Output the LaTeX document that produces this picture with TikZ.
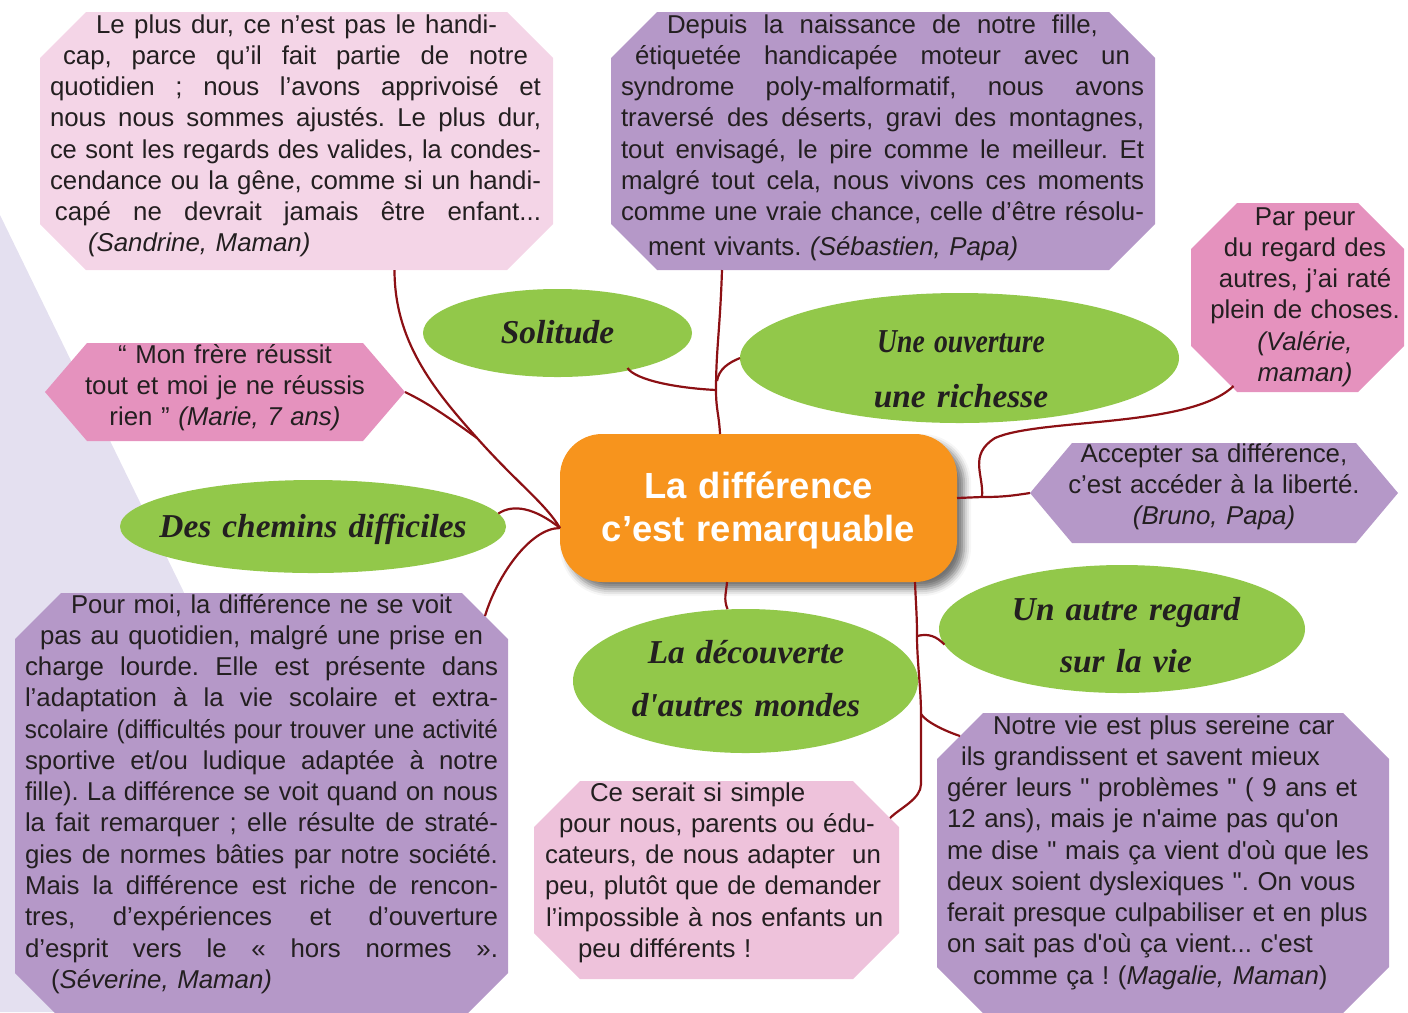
\documentclass[tikz,border=0pt]{standalone}
\usepackage{fontspec}
\usepackage{graphicx}
\setmainfont{Liberation Sans}
\newfontfamily{\hand}{Liberation Serif}
\usetikzlibrary{shapes.geometric,calc,shadows.blur}
\definecolor{lav}{RGB}{228,224,240}
\definecolor{pale}{RGB}{244,213,231}
\definecolor{rose}{RGB}{238,194,219}
\definecolor{candy}{RGB}{229,146,190}
\definecolor{mauve}{RGB}{181,152,200}
\definecolor{leaf}{RGB}{146,200,74}
\definecolor{tangerine}{RGB}{247,148,29}
\definecolor{ink}{RGB}{35,31,32}
\definecolor{wine}{RGB}{140,16,20}
\newlength{\px}
\setlength{\px}{0.02cm}
\newsavebox{\lnbox}
\newcommand{\jl}[3][0]{\hspace*{#1\px}\sbox{\lnbox}{#3}%
  \ifdim\wd\lnbox>#2\px\relax\resizebox{#2\px}{\height}{\usebox{\lnbox}}%
  \else\hbox to #2\px{\spaceskip=\fontdimen2\font plus 1fil\relax
    \xspaceskip=\spaceskip #3}\fi}
\newcommand{\octbox}[3]{\fill[#2] ($(#1.north west)+(#3,0)$) -- ($(#1.north east)+(-#3,0)$)
  -- ($(#1.north east)+(0,#3)$) -- ($(#1.south east)+(0,-#3)$) -- ($(#1.south east)+(-#3,0)$)
  -- ($(#1.south west)+(#3,0)$) -- ($(#1.south west)+(0,-#3)$) -- ($(#1.north west)+(0,#3)$) -- cycle;}
\newcommand{\hexbox}[3]{\fill[#2] (#1.west) -- ($(#1.north west)+(#3,0)$) -- ($(#1.north east)+(-#3,0)$)
  -- (#1.east) -- ($(#1.south east)+(-#3,0)$) -- ($(#1.south west)+(#3,0)$) -- cycle;}
\newcommand{\quotefont}{\fontsize{14.7}{17.8}\selectfont}
\newcommand{\handfont}{\hand\bfseries\itshape\fontsize{19}{30.6}\selectfont}
\newcommand{\titlefont}{\bfseries\fontsize{20.7}{24.9}\selectfont}
\newcommand{\sq}{\textquotesingle}
\newcommand{\dq}{\textquotedbl}

\begin{document}
\frenchspacing
\begin{tikzpicture}[x=0.02cm,y=-0.02cm]
  \tikzstyle{every node}=[inner sep=0pt,outer sep=0pt]
  \tikzstyle{bubble}=[ellipse,fill=leaf]
  \tikzstyle{txt}=[font=\quotefont,text=ink,anchor=base west,align=left]
  \tikzstyle{ctr}=[font=\quotefont,text=ink,anchor=base,align=center]
  \tikzstyle{lbl}=[font=\handfont,text=ink,anchor=base,align=center,text width=460*\px]
  \tikzstyle{link}=[draw=wine,line width=1.25pt]
  \useasboundingbox (0,0) rectangle (1408,1012);
  \fill[lav] (0,215) -- (212,650) -- (212,1012) -- (0,1012) -- cycle;

  \node (sandrine) [minimum width=513*\px,minimum height=258*\px] at (296.5,141) {};
  \node (sebastien) [minimum width=544*\px,minimum height=258*\px] at (883,141) {};
  \node (valerie) [minimum width=213*\px,minimum height=189*\px] at (1297.5,297.5) {};
  \node (bruno) [minimum width=368*\px,minimum height=100*\px] at (1214,493) {};
  \node (marie) [minimum width=360*\px,minimum height=98*\px] at (225,392) {};
  \node (severine) [minimum width=493*\px,minimum height=426*\px] at (261.5,806) {};
  \node (cesimple) [minimum width=365*\px,minimum height=198*\px] at (716.5,880) {};
  \node (magalie) [minimum width=452*\px,minimum height=300*\px] at (1163,863) {};
  \octbox{sandrine}{pale}{46}
  \octbox{sebastien}{mauve}{46}
  \octbox{valerie}{candy}{46}
  \hexbox{bruno}{mauve}{42}
  \hexbox{marie}{candy}{42}
  \octbox{severine}{mauve}{46}
  \octbox{cesimple}{rose}{46}
  \octbox{magalie}{mauve}{46}

  \node (solitude) [bubble,minimum width=269*\px,minimum height=88*\px] at (557.5,333) {};
  \node (ouverture) [bubble,minimum width=439*\px,minimum height=130*\px] at (959.5,358) {};
  \node (chemins) [bubble,minimum width=386*\px,minimum height=93*\px] at (313,526.5) {};
  \node (decouverte) [bubble,minimum width=345*\px,minimum height=144*\px] at (745.5,681) {};
  \node (regard) [bubble,minimum width=366*\px,minimum height=128*\px] at (1122,629) {};

  \node (diff) [rectangle,rounded corners=24pt,fill=tangerine,minimum width=397*\px,
    minimum height=148*\px,blur shadow={shadow xshift=4pt,shadow yshift=-4pt,
    shadow blur radius=4pt,shadow opacity=55}] at (758.5,508) {};

  \coordinate (hubL) at ($(diff.west)+(0,20)$);
  \coordinate (jL) at (477,438);
  \coordinate (jT) at (716,390);
  \coordinate (jT2) at (717,381);
  \coordinate (hubR) at ($(diff.east)+(0,-10)$);
  \coordinate (jR) at (982,497);
  \coordinate (jB1) at (917,636);
  \coordinate (jB2) at (921,714);

  \draw[link] ($(sandrine.south)+(98,0)$) .. controls +(0,70) and +(-45,-50) .. (jL)
    .. controls +(40,45) and +(-15,-25) .. (hubL);
  \draw[link] (marie.east) .. controls +(25,12) and +(-25,-18) .. (jL);
  \draw[link] (chemins.4) .. controls +(15,-10) and +(-25,-20) .. (hubL);
  \draw[link] (hubL) .. controls +(-30,0) and +(12,-40) .. ($(severine.north)+(223.5,23)$);
  \draw[link] ($(sebastien.south)+(-161,0)$) .. controls +(-2,60) and +(0,-40) .. (jT)
    .. controls +(0,20) and +(-1,-20) .. ($(diff.north)+(-38.5,0)$);
  \draw[link] ($(solitude.south)+(70,-9)$) .. controls +(8,12) and +(-40,-2) .. (jT);
  \draw[link] (jT2) .. controls +(2,-12) and +(-12,5) .. (ouverture.west);
  \draw[link] (hubR) -- (jR) .. controls +(20,0) and +(-20,3) .. (bruno.west);
  \draw[link] (jR) .. controls +(2,-22) and +(-27,17) .. ++(13,-59)
    .. controls +(45,-20) and +(-43,42) .. ($(valerie.south)+(-64,-6)$);
  \draw[link] ($(diff.south)+(-31.5,0)$) .. controls +(-1,12) and +(-4,-10) .. ($(decouverte.north)+(-18,0)$);
  \draw[link] ($(diff.south)+(156.5,0)$) .. controls +(1,25) and +(0,-20) .. (jB1)
    .. controls +(0,25) and +(0,-25) .. (jB2) .. controls +(0,30) and +(0,-30) .. ++(0,70)
    .. controls +(0,15) and +(10,-10) .. ($(cesimple.north)+(173.5,37)$);
  \draw[link] (jB1) .. controls +(12,-3) and +(-8,-8) .. (regard.185);
  \draw[link] (jB2) .. controls +(5,8) and +(-15,-5) .. ($(magalie.north)+(-203,23)$);

  \node (t-diff) [font=\titlefont,text=white,anchor=base,align=center,text width=420*\px]
    at (758.5,498) {La différence\\c’est remarquable};
  \node (t-solitude) [lbl] at (557.5,343) {Solitude};
  \node (t-ouverture) [lbl] at (961,352) {\scalebox{0.83}[1]{Une ouverture}\\[1.2pt]une richesse};
  \node (t-chemins) [lbl] at (313,537) {Des chemins difficiles};
  \node (t-decouverte) [lbl] at (746,663) {La découverte\\d'autres mondes};
  \node (t-regard) [lbl] at (1126,620) {Un autre regard\\[-1pt]sur la vie};

  \node (t-sandrine) [txt,text width=491*\px] at (50,33) {%
    \jl[46]{401}{Le plus dur, ce n’est pas le handi-}\\
    \jl[13]{465}{cap, parce qu’il fait partie de notre}\\
    \jl{491}{quotidien ; nous l’avons apprivoisé et}\\
    \jl{491}{nous nous sommes ajustés. Le plus dur,}\\
    \jl{491}{ce sont les regards des valides, la condes-}\\
    \jl{491}{cendance ou la gêne, comme si un handi-}\\
    \jl[5]{486}{capé ne devrait jamais être enfant...}\\
    \hspace*{38\px}\textit{(Sandrine, Maman)}};
  \node (t-sebastien) [txt,text width=523*\px] at (621,33) {%
    \jl[46]{431}{Depuis la naissance de notre fille,}\\
    \jl[14]{495}{étiquetée handicapée moteur avec un}\\
    \jl{523}{syndrome poly-malformatif, nous avons}\\
    \jl{523}{traversé des déserts, gravi des montagnes,}\\
    \jl{523}{tout envisagé, le pire comme le meilleur. Et}\\
    \jl{523}{malgré tout cela, nous vivons ces moments}\\
    \jl{523}{comme une vraie chance, celle d’être résolu-}\\[2pt]
    \hspace*{27\px}ment vivants. \textit{(Sébastien, Papa)}};
  \node (t-valerie) [ctr,text width=220*\px] at (1305,225) {Par peur\\du regard des\\
    autres, j’ai raté\\plein de choses.\\\textit{(Valérie,}\\\textit{maman)}};
  \node (t-bruno) [ctr,text width=320*\px] at (1214,462) {Accepter sa différence,\\
    c’est accéder à la liberté.\\\textit{(Bruno, Papa)}};
  \node (t-marie) [ctr,text width=330*\px] at (225,363) {“ Mon frère réussit\\
    tout et moi je ne réussis\\rien ” \textit{(Marie, 7 ans)}};
  \node (t-severine) [txt,text width=473*\px] at (25,613) {%
    \jl[46]{381}{Pour moi, la différence ne se voit}\\
    \jl[15]{443}{pas au quotidien, malgré une prise en}\\
    \jl{473}{charge lourde. Elle est présente dans}\\
    \jl{473}{l’adaptation à la vie scolaire et extra-}\\
    \jl{473}{scolaire (difficultés pour trouver une activité}\\
    \jl{473}{sportive et/ou ludique adaptée à notre}\\
    \jl{473}{fille). La différence se voit quand on nous}\\
    \jl{473}{la fait remarquer ; elle résulte de straté-}\\
    \jl{473}{gies de normes bâties par notre société.}\\
    \jl{473}{Mais la différence est riche de rencon-}\\
    \jl{473}{tres, d’expériences et d’ouverture}\\
    \jl{473}{d’esprit vers le « hors normes ».}\\
    \hspace*{26\px}(\textit{Séverine, Maman)}};
  \node (t-cesimple) [txt,text width=345*\px] at (545,801) {%
    \hspace*{45\px}Ce serait si simple\\
    \hspace*{14\px}pour nous, parents ou édu-\\
    cateurs, de nous adapter\ \ un\\
    peu, plutôt que de demander\\
    \hspace*{1\px}l’impossible à nos enfants un\\
    \hspace*{33\px}peu différents !};
  \node (t-magalie) [txt,text width=432*\px] at (947,734) {%
    \hspace*{46\px}Notre vie est plus sereine car\\
    \hspace*{14\px}ils grandissent et savent mieux\\
    gérer leurs \dq{} problèmes \dq{} ( 9 ans et\\
    12 ans), mais je n\sq aime pas qu\sq on\\
    me dise \dq{} mais ça vient d\sq où que les\\
    deux soient dyslexiques \dq. On vous\\
    ferait presque culpabiliser et en plus\\
    on sait pas d\sq où ça vient... c\sq est\\
    \hspace*{26\px}comme ça ! (\textit{Magalie, Maman})};
\end{tikzpicture}
\end{document}
